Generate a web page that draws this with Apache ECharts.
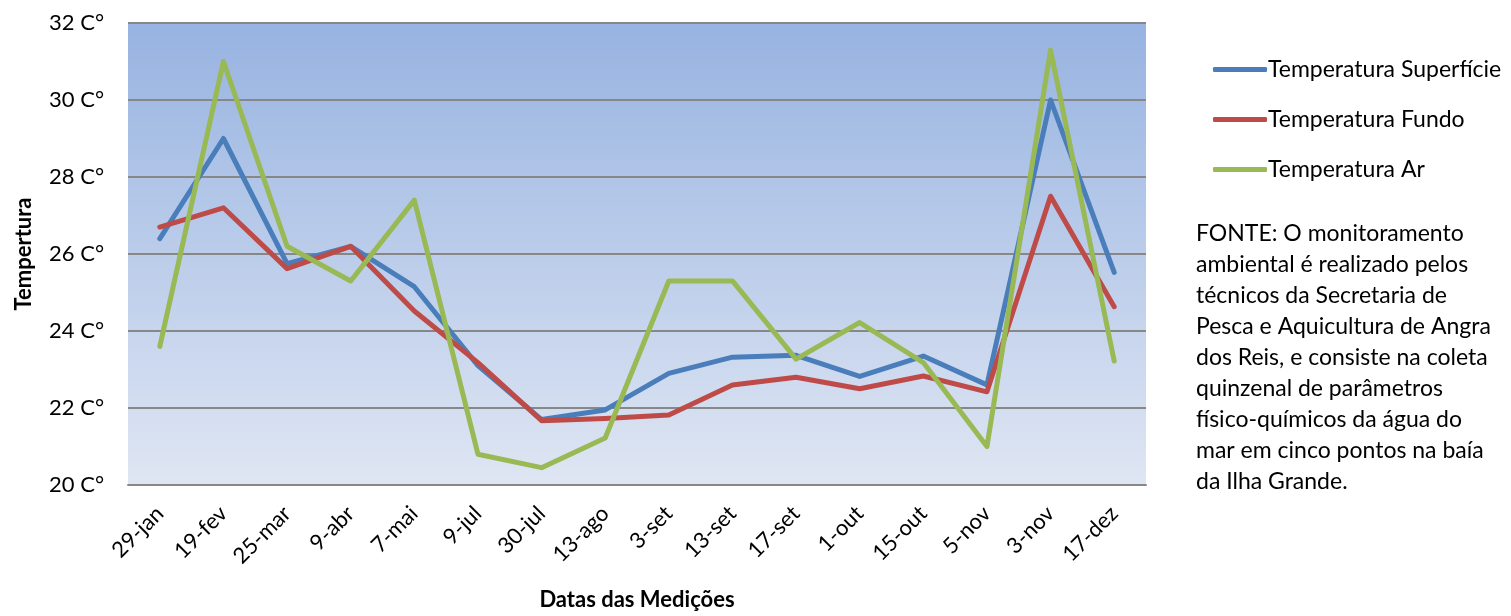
<!DOCTYPE html>
<html>
<head>
<meta charset="utf-8">
<script src="https://cdn.jsdelivr.net/npm/echarts@6/dist/echarts.min.js"></script>
<style>html,body{margin:0;padding:0;background:#fff}#c{width:1511px;height:616px}</style>
</head>
<body>
<div id="c"></div>
<script>
const categories = ['29-jan','19-fev','25-mar','9-abr','7-mai','9-jul','30-jul','13-ago','3-set','13-set','17-set','1-out','15-out','5-nov','3-nov','17-dez'];
const superficie = [26.4, 29.0, 25.75, 26.2, 25.15, 23.1, 21.7, 21.95, 22.9, 23.32, 23.37, 22.82, 23.35, 22.6, 30.0, 25.52];
const fundo      = [26.7, 27.2, 25.62, 26.2, 24.52, 23.18, 21.67, 21.73, 21.82, 22.6, 22.8, 22.5, 22.83, 22.42, 27.5, 24.63];
const ar         = [23.6, 31.0, 26.2, 25.3, 27.4, 20.8, 20.45, 21.22, 25.3, 25.3, 23.27, 24.22, 23.18, 21.0, 31.3, 23.22];
const yTicks = {min: 20, max: 32, interval: 2};
const seriesNames = ['Temperatura Superfície', 'Temperatura Fundo', 'Temperatura Ar'];
const fonteLines = [
  'FONTE: O monitoramento',
  'ambiental é realizado pelos',
  'técnicos da Secretaria de',
  'Pesca e Aquicultura de Angra',
  'dos Reis, e consiste na coleta',
  'quinzenal de parâmetros',
  'físico-químicos da água do',
  'mar em cinco pontos na baía',
  'da Ilha Grande.'
];

const FONT = 'Lato, "Open Sans", sans-serif';
const colors = ['#4A7EBB', '#BE4B48', '#98B954'];
const chart = echarts.init(document.getElementById('c'));
chart.setOption({
  animation: false,
  textStyle: {fontFamily: FONT},
  grid: {
    left: 128, right: 365, top: 23, bottom: 130,
    show: true, borderWidth: 0,
    backgroundColor: {type: 'linear', x: 0, y: 0, x2: 0, y2: 1,
      colorStops: [{offset: 0, color: '#97B3E1'}, {offset: 1, color: '#DFE6F3'}]}
  },
  legend: {
    orient: 'vertical', left: 1208, top: 53,
    itemWidth: 54, itemHeight: 5, itemGap: 27,
    icon: 'roundRect',
    textStyle: {fontSize: 23, color: '#000', fontFamily: FONT, padding: [0, 0, 0, -4]},
    data: seriesNames
  },
  xAxis: {
    type: 'category', data: categories, boundaryGap: true,
    name: 'Datas das Medições', nameLocation: 'middle', nameGap: 104,
    nameTextStyle: {fontWeight: 'bold', fontSize: 22, color: '#000'},
    axisLine: {lineStyle: {color: '#888', width: 2}},
    axisTick: {show: false},
    axisLabel: {rotate: 45, fontSize: 22, color: '#000', margin: 25, interval: 0}
  },
  yAxis: {
    type: 'value', min: yTicks.min, max: yTicks.max, interval: yTicks.interval,
    name: 'Tempertura', nameLocation: 'middle', nameGap: 93, nameRotate: 90,
    nameTextStyle: {fontWeight: 'bold', fontSize: 22, color: '#000'},
    axisLine: {show: false},
    axisTick: {show: false},
    axisLabel: {fontSize: 22, color: '#000', margin: 24, formatter: v => v + ' C°'},
    splitLine: {lineStyle: {color: '#878787', width: 2}}
  },
  graphic: [{
    type: 'text', left: 1196, top: 218,
    style: {text: fonteLines.join('\n'), fontSize: 23, lineHeight: 31, fill: '#000', fontFamily: FONT}
  }],
  series: [superficie, fundo, ar].map((d, i) => ({
    name: seriesNames[i], type: 'line', data: d,
    symbol: 'none', color: colors[i],
    lineStyle: {width: 5, color: colors[i], cap: 'round', join: 'round'}
  }))
});
</script>
</body>
</html>
